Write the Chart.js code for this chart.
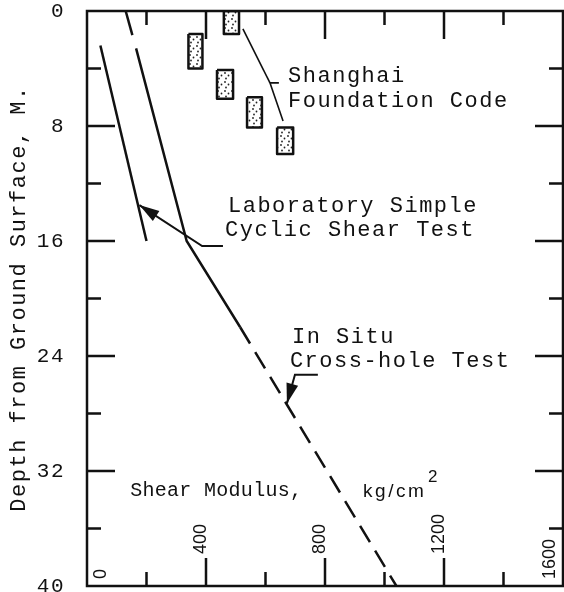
<!DOCTYPE html>
<html>
<head>
<meta charset="utf-8">
<script src="https://cdn.jsdelivr.net/npm/chart.js@4.4.1/dist/chart.umd.min.js"></script>
<style>
  html, body { margin: 0; padding: 0; background: #fff; }
</style>
</head>
<body>
<canvas id="chart" width="564" height="592"></canvas>
<script>
// shear modulus (kg/cm2) against depth (m)
const labModulus = [45, 200];
const labDepth = [2.4, 16];

const inSituModulus = [130, 165, 335, 515, 1040];
const inSituDepth = [0, 2.6, 16, 22, 40];

// Shanghai Foundation Code ranges, one box per layer
const codeModLow = [460, 341, 437, 538, 639];
const codeModHigh = [511, 388, 491, 588, 693];
const codeDepthTop = [0, 1.6, 4.1, 6.0, 8.1];
const codeDepthBottom = [1.6, 4.0, 6.1, 8.1, 9.95];

const xTickLabels = [0, 400, 800, 1200, 1600];
const yTickLabels = [0, 8, 16, 24, 32, 40];

const ink = '#111';
const mono = "'Liberation Mono', 'Courier New', monospace";
const sans = "'Liberation Sans', Arial, sans-serif";

function stipple() {
  const c = document.createElement('canvas');
  c.width = 7; c.height = 9;
  const g = c.getContext('2d');
  g.fillStyle = '#fff';
  g.fillRect(0, 0, 7, 9);
  g.fillStyle = '#222';
  [[1, 1], [4.5, 3.5], [2, 6.5]].forEach(([px, py]) => {
    g.beginPath();
    g.arc(px, py, 0.9, 0, Math.PI * 2);
    g.fill();
  });
  return g.createPattern(c, 'repeat');
}
const dots = stipple();

const boxes = codeModLow.map((lo, i) => ({
  data: [
    {x: lo, y: codeDepthTop[i]},
    {x: codeModHigh[i], y: codeDepthTop[i]},
    {x: codeModHigh[i], y: codeDepthBottom[i]},
    {x: lo, y: codeDepthBottom[i]},
    {x: lo, y: codeDepthTop[i]}
  ],
  showLine: true,
  fill: 'shape',
  backgroundColor: dots,
  borderColor: ink,
  borderWidth: 2.5,
  borderJoinStyle: 'round',
  pointRadius: 0
}));

// annotation text and leaders, placed in data units
const notes = [
  {text: 'Shanghai', at: [676, 4.94]},
  {text: 'Foundation Code', at: [676, 6.68]},
  {text: 'Laboratory Simple', at: [474, 13.98]},
  {text: 'Cyclic Shear Test', at: [464, 15.65]},
  {text: 'In Situ', at: [689, 23.1]},
  {text: 'Cross-hole Test', at: [682, 24.77]}
];
const leaders = [
  [[524, 1.25], [615, 5.0]],
  [[645, 5.0], [615, 5.0], [659, 7.65]]
];
const arrows = [
  [[457, 16.35], [387, 16.35], [176, 13.5]],
  [[776, 25.3], [699, 25.3], [672, 27.3]]
];

function arrowHead(ctx, from, to) {
  const ang = Math.atan2(to[1] - from[1], to[0] - from[0]);
  const len = 20, half = 6;
  ctx.beginPath();
  ctx.moveTo(to[0], to[1]);
  ctx.lineTo(to[0] - len * Math.cos(ang) + half * Math.sin(ang), to[1] - len * Math.sin(ang) - half * Math.cos(ang));
  ctx.lineTo(to[0] - len * Math.cos(ang) - half * Math.sin(ang), to[1] - len * Math.sin(ang) + half * Math.cos(ang));
  ctx.closePath();
  ctx.fill();
}

const frame = {
  id: 'frame',
  beforeDraw(chart) {
    chart.ctx.letterSpacing = '1.5px';
  },
  afterDraw(chart) {
    const {ctx, chartArea: a, scales: {x, y}} = chart;
    const P = (p) => [x.getPixelForValue(p[0]), y.getPixelForValue(p[1])];
    ctx.save();
    ctx.strokeStyle = ink;
    ctx.fillStyle = ink;
    ctx.lineWidth = 2.5;
    ctx.strokeRect(a.left, a.top, a.right - a.left, a.bottom - a.top);

    // inward ticks on all four sides
    ctx.beginPath();
    y.ticks.forEach(t => {
      if (t.value <= y.min || t.value >= y.max) return;
      const py = y.getPixelForValue(t.value);
      const len = t.value % 8 === 0 ? 28 : 14;
      ctx.moveTo(a.left, py); ctx.lineTo(a.left + len, py);
      ctx.moveTo(a.right, py); ctx.lineTo(a.right - len, py);
    });
    x.ticks.forEach(t => {
      if (t.value <= x.min || t.value >= x.max) return;
      const px = x.getPixelForValue(t.value);
      const len = t.value % 400 === 0 ? 28 : 14;
      ctx.moveTo(px, a.bottom); ctx.lineTo(px, a.bottom - len);
      ctx.moveTo(px, a.top); ctx.lineTo(px, a.top + len);
    });
    ctx.stroke();

    // x tick labels, upright inside the frame
    ctx.letterSpacing = '0px';
    ctx.font = '18px ' + sans;
    ctx.textAlign = 'left';
    ctx.textBaseline = 'middle';
    xTickLabels.forEach(v => {
      const px = x.getPixelForValue(v);
      const edge = v === x.min ? 14 : v === x.max ? -13 : -5;
      const base = (v === x.min || v === x.max) ? a.bottom - 7 : a.bottom - 32;
      ctx.save();
      ctx.translate(px + edge, base);
      ctx.rotate(-Math.PI / 2);
      ctx.fillText(String(v), 0, 0);
      ctx.restore();
    });

    // axis caption inside the plot
    ctx.textBaseline = 'alphabetic';
    ctx.font = '20px ' + mono;
    ctx.letterSpacing = '0.3px';
    let p = P([145, 33.74]);
    ctx.fillText('Shear Modulus,', p[0], p[1]);
    ctx.font = '19px ' + sans;
    ctx.letterSpacing = '2.5px';
    p = P([928, 33.8]);
    ctx.fillText('kg/cm', p[0], p[1]);
    ctx.font = '17px ' + sans;
    ctx.letterSpacing = '0px';
    p = P([1146, 32.77]);
    ctx.fillText('2', p[0], p[1]);

    // notes
    ctx.font = '22px ' + mono;
    ctx.letterSpacing = '1.5px';
    notes.forEach(n => {
      const q = P(n.at);
      ctx.fillText(n.text, q[0], q[1]);
    });

    ctx.lineWidth = 1.6;
    leaders.forEach(l => {
      ctx.beginPath();
      l.map(P).forEach((q, i) => i ? ctx.lineTo(q[0], q[1]) : ctx.moveTo(q[0], q[1]));
      ctx.stroke();
    });
    ctx.lineWidth = 2;
    arrows.forEach(l => {
      const pts = l.map(P);
      ctx.beginPath();
      pts.forEach((q, i) => i ? ctx.lineTo(q[0], q[1]) : ctx.moveTo(q[0], q[1]));
      ctx.stroke();
      arrowHead(ctx, pts[pts.length - 2], pts[pts.length - 1]);
    });
    ctx.restore();
  }
};

new Chart(document.getElementById('chart'), {
  type: 'scatter',
  data: {
    datasets: [
      {
        data: labModulus.map((v, i) => ({x: v, y: labDepth[i]})),
        showLine: true,
        borderColor: ink,
        borderWidth: 2.5,
        pointRadius: 0
      },
      {
        data: inSituModulus.map((v, i) => ({x: v, y: inSituDepth[i]})),
        showLine: true,
        borderColor: ink,
        borderWidth: 2.5,
        pointRadius: 0,
        segment: {
          borderDash: ctx => ctx.p0DataIndex === 0 ? [25, 14] : ctx.p0DataIndex === 3 ? [19, 10] : undefined
        }
      },
      ...boxes
    ]
  },
  options: {
    responsive: false,
    animation: false,
    layout: {padding: {top: 11, right: 1, bottom: 6, left: 0}},
    plugins: {legend: {display: false}, tooltip: {enabled: false}},
    scales: {
      x: {
        type: 'linear', min: 0, max: 1600,
        ticks: {stepSize: 200, display: false},
        grid: {display: false, drawTicks: false},
        border: {display: false},
        afterFit: s => { s.height = 0; s.paddingLeft = 0; s.paddingRight = 0; }
      },
      y: {
        type: 'linear', reverse: true, min: 0, max: 40,
        ticks: {
          stepSize: 4, padding: 22, color: ink, autoSkip: false,
          font: {family: mono, size: 21},
          callback: v => yTickLabels.includes(v) ? String(v) : ''
        },
        grid: {display: false, drawTicks: false},
        border: {display: false},
        title: {
          display: true, text: 'Depth from Ground Surface, M.', color: ink,
          font: {family: mono, size: 22}, padding: {top: 6}
        },
        afterFit: s => { s.width = 87; s.paddingTop = 0; s.paddingBottom = 0; }
      }
    }
  },
  plugins: [frame]
});
</script>
</body>
</html>
